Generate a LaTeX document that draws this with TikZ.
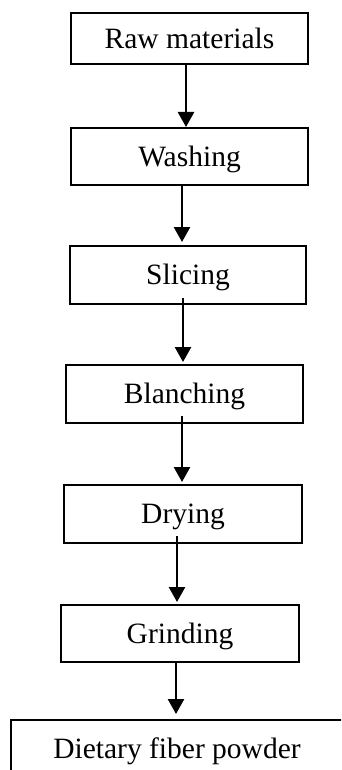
\documentclass[tikz,border=0pt]{standalone}
\usepackage{fontspec}
\setmainfont{Liberation Serif}
\usetikzlibrary{arrows.meta}
\begin{document}
\begin{tikzpicture}[x=1pt,y=-1pt,
  stepbox/.style={draw=black, line width=2pt, rectangle, inner sep=0pt,
    font=\fontsize{29.5}{35}\selectfont, text height=19.5pt, text depth=0pt},
  arr/.style={line width=2.6pt, -{Triangle[width=16pt,length=15pt]}}]
\fill[white] (0,0) rectangle (341,770);
\useasboundingbox (0,0) rectangle (341,770);
\clip (0,0) rectangle (341,770);
\node[stepbox, minimum width=237pt, minimum height=51pt] (raw) at (189.5,38.5) {Raw materials};
\node[stepbox, minimum width=237pt, minimum height=57pt] (wash) at (189.5,156.5) {Washing};
\node[stepbox, minimum width=236pt, minimum height=58pt] (slice) at (188,275) {Slicing};
\node[stepbox, minimum width=237pt, minimum height=58pt] (blanch) at (184.5,394) {Blanching};
\node[stepbox, minimum width=238pt, minimum height=58pt] (dry) at (183,514) {Drying};
\node[stepbox, minimum width=238pt, minimum height=57pt] (grind) at (180,633.5) {Grinding};
\node[stepbox, minimum width=332pt, minimum height=57pt] (powder) at (177,748.5) {Dietary fiber powder};
\draw[arr] ([xshift=-3.5pt]raw.south) -- ([xshift=-3.5pt]wash.north);
\draw[arr] ([xshift=-7.5pt]wash.south) -- ([xshift=-6pt,yshift=3pt]slice.north);
\draw[arr] ([xshift=-5pt,yshift=7pt]slice.south) -- ([xshift=-1.5pt,yshift=2pt]blanch.north);
\draw[arr] ([xshift=-2.5pt,yshift=8pt]blanch.south) -- ([xshift=-1pt,yshift=2pt]dry.north);
\draw[arr] ([xshift=-6pt,yshift=8pt]dry.south) -- ([xshift=-3pt,yshift=2pt]grind.north);
\draw[arr] ([xshift=-4pt]grind.south) -- ([xshift=-1pt,yshift=5pt]powder.north);
\end{tikzpicture}
\end{document}
